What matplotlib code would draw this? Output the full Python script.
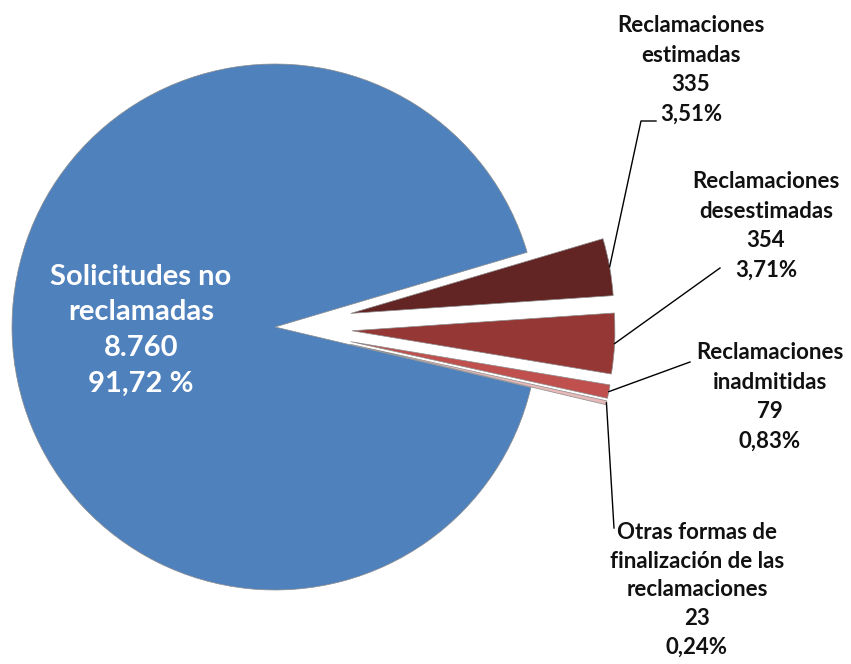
import numpy as np
import matplotlib
matplotlib.use("Agg")
import matplotlib.pyplot as plt

# datos
labels = ["Reclamaciones\nestimadas", "Reclamaciones\ndesestimadas",
          "Reclamaciones\ninadmitidas",
          "Otras formas de\nfinalización de las\nreclamaciones",
          "Solicitudes no\nreclamadas"]
values = [335, 354, 79, 23, 8760]
value_txt = ["335", "354", "79", "23", "8.760"]
pct_txt = ["3,51%", "3,71%", "0,83%", "0,24%", "91,72 %"]
colors = ["#632523", "#953735", "#C0504D", "#E6B9B8", "#4F81BD"]

W, H = 851, 664
fig = plt.figure(figsize=(W / 100, H / 100), dpi=100)
ax = fig.add_axes([0, 0, 1, 1])

cx, cy, r = 275, H - 327, 263
expl = 77
start = 16.5
wedges, _ = ax.pie(values, colors=colors, startangle=start, counterclock=False,
                   center=(cx, cy), radius=r, explode=[expl] * 4 + [0],
                   frame=True,
                   wedgeprops=dict(edgecolor="#8c8c8c", linewidth=0.5))
ax.set_xlim(0, W)
ax.set_ylim(0, H)
ax.axis("off")

# etiquetas (posiciones en píxeles desde arriba)
lab_pos = [(691, 70), (766, 226), (770, 397), (697, 590)]
line_ends = [[(641, 121), (656, 121)], [(720, 268)], [(690, 362)], [(614, 528)]]
fnt = ["Lato", "DejaVu Sans"]
for i in range(4):
    w = wedges[i]
    tm = np.deg2rad((w.theta1 + w.theta2) / 2)
    x0 = w.center[0] + w.r * np.cos(tm)
    y0 = w.center[1] + w.r * np.sin(tm)
    xs = [x0] + [p[0] for p in line_ends[i]]
    ys = [y0] + [H - p[1] for p in line_ends[i]]
    ax.plot(xs, ys, color="black", lw=1.0)
    txt = labels[i] + "\n" + value_txt[i] + "\n" + pct_txt[i]
    ax.text(lab_pos[i][0], H - lab_pos[i][1], txt, ha="center", va="center",
            fontsize=16, fontweight="bold", family=fnt, color="#111111",
            linespacing=1.5 if i < 3 else 1.45)

ax.text(141, H - 330, labels[4] + "\n" + value_txt[4] + "\n" + pct_txt[4],
        ha="center", va="center", fontsize=21, fontweight="bold", family=fnt,
        color="white", linespacing=1.46)

fig.savefig("out.png", dpi=100)
